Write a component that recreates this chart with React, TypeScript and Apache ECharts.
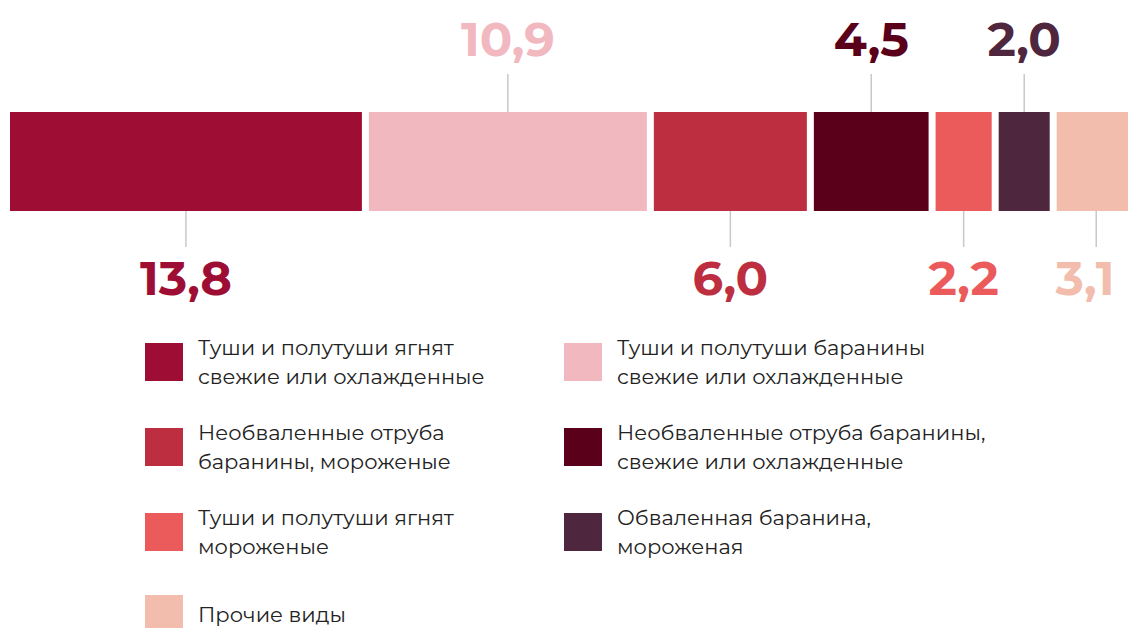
import React, { useEffect, useRef } from "react";
import * as echarts from "echarts";

const categories = [
  "Туши и полутуши ягнят\nсвежие или охлажденные",
  "Туши и полутуши баранины\nсвежие или охлажденные",
  "Необваленные отруба\nбаранины, мороженые",
  "Необваленные отруба баранины,\nсвежие или охлажденные",
  "Туши и полутуши ягнят\nмороженые",
  "Обваленная баранина,\nмороженая",
  "Прочие виды",
];
const values = [13.8, 10.9, 6.0, 4.5, 2.2, 2.0, 3.1];
const labelSides = ["bottom", "top", "bottom", "top", "bottom", "top", "bottom"];
const colors = ["#9E0E34", "#F2B8BF", "#BD2F40", "#5A001B", "#EC5B5B", "#4E263D", "#F3BDAE"];

const GAP = 7;
const LABEL_FONT = "Montserrat, Inter, 'Noto Sans', sans-serif";
const TEXT_FONT = "Montserrat, Inter, 'Noto Sans', sans-serif";

export default function App() {
  const ref = useRef<HTMLDivElement>(null);
  useEffect(() => {
    if (!ref.current) return;
    const chart = echarts.init(ref.current, undefined, { renderer: "svg" });
    const total = values.reduce((a, b) => a + b, 0);
    const starts: number[] = [];
    values.reduce((acc, v) => {
      starts.push(acc);
      return acc + v;
    }, 0);

    const series = values.map((v, i) => ({
      type: "custom",
      name: categories[i],
      itemStyle: { color: colors[i] },
      clip: false,
      data: [[starts[i], 0, v]],
      encode: { x: [0], y: [1] },
      renderItem: (params: any, api: any) => {
        const cs = params.coordSys;
        const p0 = api.coord([api.value(0), 0]);
        const w = api.size([api.value(2), 0])[0];
        const x0 = p0[0] + i * GAP;
        const y = cs.y;
        const h = cs.height;
        const cx = x0 + w / 2;
        const side = labelSides[i];
        const tx = Math.min(cx, api.getWidth() - 43);
        const label = api.value(2).toFixed(1).replace(".", ",");
        const line =
          side === "top"
            ? { x1: cx, y1: y - 38, x2: cx, y2: y }
            : { x1: cx, y1: y + h, x2: cx, y2: y + h + 36 };
        return {
          type: "group",
          children: [
            {
              type: "rect",
              shape: { x: x0, y, width: w, height: h },
              style: { fill: colors[i] },
            },
            {
              type: "line",
              shape: line,
              style: { stroke: "#C8C8C8", lineWidth: 1.5 },
            },
            {
              type: "text",
              x: tx,
              y: side === "top" ? y - 73 : y + h + 67,
              style: {
                text: label,
                fill: colors[i],
                font: `bold 48px ${LABEL_FONT}`,
                align: "center",
                verticalAlign: "middle",
              },
            },
          ],
        };
      },
    }));

    const legendText = {
      color: "#222222",
      fontSize: 21,
      lineHeight: 29,
      fontFamily: TEXT_FONT,
      padding: [6, 0, 0, 10],
    };
    const legendBase = {
      orient: "vertical",
      icon: "rect",
      itemWidth: 38,
      itemHeight: 38,
      itemGap: 21,
      padding: 0,
      selectedMode: false,
      textStyle: legendText,
    };
    const legendItem = (idx: number) => ({
      name: categories[idx],
      itemStyle: { color: colors[idx] },
    });

    chart.setOption({
      animation: false,
      grid: { left: 10, top: 112, width: total * 25.5, height: 99 },
      xAxis: { type: "value", min: 0, max: total, show: false },
      yAxis: { type: "category", data: ["all"], show: false },
      legend: [
        { ...legendBase, left: 145, top: 330, data: [0, 2, 4].map(legendItem) },
        { ...legendBase, left: 145, top: 595, data: [6].map(legendItem) },
        { ...legendBase, left: 564, top: 330, data: [1, 3, 5].map(legendItem) },
      ],
      series,
    });
    return () => chart.dispose();
  }, []);
  return (
    <div
      ref={ref}
      style={{ position: "absolute", left: 0, top: 0, width: 1128, height: 628, background: "#fff" }}
    />
  );
}
